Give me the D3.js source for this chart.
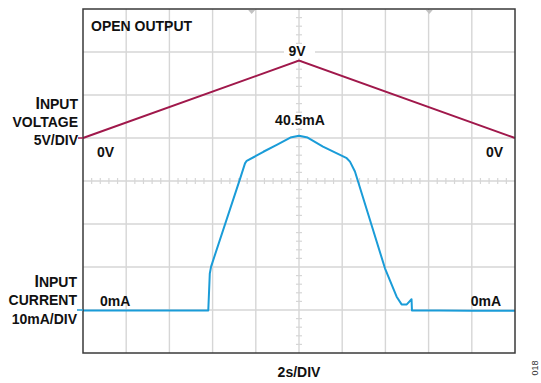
<!DOCTYPE html>
<html>
<head>
<meta charset="utf-8">
<script src="https://cdn.jsdelivr.net/npm/d3@7"></script>
<style>
  html, body { margin: 0; padding: 0; background: #fff; }
  svg { display: block; }
  text { font-family: "Liberation Sans", Arial, sans-serif; font-weight: bold; fill: #111; }
</style>
</head>
<body>
<svg id="chart" width="541" height="383"></svg>
<script>
// Time axis: 2 s per division, 10 divisions
const timeTicks = [0, 2, 4, 6, 8, 10, 12, 14, 16, 18, 20];

// Input voltage ramp (s, V)
const voltageTime = [0, 10, 20];
const voltageValue = [0, 9, 0];

// Input current (s, mA)
const currentTime = [0, 1.5, 3, 4.5, 5.8, 5.87, 5.93, 7.27, 7.5, 7.58, 7.96, 8.35, 8.97, 9.6, 10, 10.4, 11.11, 12.21, 12.36, 12.59, 13.98, 14.52, 14.75, 14.99, 15.21, 15.23, 16.5, 18, 20];
const currentValue = [-0.1, -0.1, -0.1, -0.1, -0.1, 8.5, 10.1, 30.5, 34.1, 34.7, 35.7, 36.8, 38.4, 40.1, 40.5, 40.1, 38.0, 35.3, 34.5, 32.2, 9.7, 3.1, 1.3, 1.3, 2.5, -0.1, -0.1, -0.2, -0.2];

// Cursor markers along the top edge (s)
const markerTime = [7.81, 16.03];

const svg = d3.select("#chart");
const plotL = 83, plotR = 515, plotT = 9, plotB = 353;

const x = d3.scaleLinear().domain([0, 20]).range([plotL, plotR]);
const div = d3.scaleLinear().domain([0, 8]).range([plotT, plotB]);
// 5 V/div with 0 V three divisions below the top
const yV = d3.scaleLinear().domain([-25, 15]).range([plotB, plotT]);
// 10 mA/div with 0 mA seven divisions below the top
const yI = d3.scaleLinear().domain([-10, 70]).range([plotB, plotT]);

const gridColor = "#d6d6d6";

// Grid
const grid = svg.append("g");
grid.selectAll("line.v").data(timeTicks.slice(1, -1)).join("line")
  .attr("class", "v")
  .attr("x1", d => x(d)).attr("x2", d => x(d))
  .attr("y1", plotT).attr("y2", plotB)
  .attr("stroke", gridColor).attr("stroke-width", 1.4);
grid.selectAll("line.h").data(d3.range(1, 8)).join("line")
  .attr("class", "h")
  .attr("x1", plotL).attr("x2", plotR)
  .attr("y1", d => div(d)).attr("y2", d => div(d))
  .attr("stroke", gridColor).attr("stroke-width", 1.4);

// Minor ticks on the centre lines
const minorX = d3.range(1, 50).filter(i => i % 5 !== 0).map(i => i * 0.4);
grid.selectAll("line.mx").data(minorX).join("line")
  .attr("class", "mx")
  .attr("x1", d => x(d)).attr("x2", d => x(d))
  .attr("y1", div(4) - 3).attr("y2", div(4) + 3)
  .attr("stroke", gridColor).attr("stroke-width", 1.2);
const minorY = d3.range(1, 40).filter(i => i % 5 !== 0).map(i => i / 5);
grid.selectAll("line.my").data(minorY).join("line")
  .attr("class", "my")
  .attr("x1", x(10) - 3).attr("x2", x(10) + 3)
  .attr("y1", d => div(d)).attr("y2", d => div(d))
  .attr("stroke", gridColor).attr("stroke-width", 1.2);

// Markers
svg.append("g").selectAll("path").data(markerTime).join("path")
  .attr("d", d => `M${x(d) - 3.5},${plotT + 1}L${x(d) + 3.5},${plotT + 1}L${x(d)},${plotT + 5}Z`)
  .attr("fill", "#c2c2c2");

function label(tx, ty, str, anchor) {
  return svg.append("text").attr("x", tx).attr("y", ty)
    .attr("text-anchor", anchor || "start").attr("font-size", 14).text(str);
}

// White backing behind the value callouts
svg.append("rect").attr("x", x(10) - 15).attr("y", div(1) - 8).attr("width", 31).attr("height", 14).attr("fill", "#fff");
svg.append("rect").attr("x", x(10) - 26).attr("y", 113).attr("width", 54).attr("height", 15).attr("fill", "#fff");

// Traces
const vLine = d3.line().x(d => x(d[0])).y(d => yV(d[1]));
svg.append("path").datum(d3.zip(voltageTime, voltageValue))
  .attr("d", vLine).attr("fill", "none")
  .attr("stroke", "#a0184b").attr("stroke-width", 2);

const iLine = d3.line().x(d => x(d[0])).y(d => yI(d[1]));
svg.append("path").datum(d3.zip(currentTime, currentValue))
  .attr("d", iLine).attr("fill", "none")
  .attr("stroke", "#1a9cd8").attr("stroke-width", 2).attr("stroke-linejoin", "round");

// Frame
svg.append("rect").attr("x", plotL).attr("y", plotT)
  .attr("width", plotR - plotL).attr("height", plotB - plotT)
  .attr("fill", "none").attr("stroke", "#3a3a3a").attr("stroke-width", 1.5);

// Level indicators at the left edge
svg.append("line").attr("x1", 78).attr("x2", plotL).attr("y1", yV(0)).attr("y2", yV(0))
  .attr("stroke", "#a0184b").attr("stroke-width", 1.5);
svg.append("line").attr("x1", 77).attr("x2", plotL).attr("y1", yI(0)).attr("y2", yI(0))
  .attr("stroke", "#1a9cd8").attr("stroke-width", 1.5);

// Text
label(91, 31, "OPEN OUTPUT");
label(x(10) - 2, 56, "9V", "middle");
label(x(10) + 1, 125, "40.5mA", "middle");
label(97, 157, "0V");
label(503, 157, "0V", "end");
label(100, 306, "0mA");
label(501, 306, "0mA", "end");
label(x(10), 377, "2s/DIV", "middle");

function axisLabel(xr, ys, lines) {
  lines.forEach((ln, i) => {
    const t = svg.append("text").attr("x", xr).attr("y", ys[i])
      .attr("text-anchor", "end").attr("font-size", 14);
    if (i === 0) {
      t.append("tspan").attr("font-size", 16).text(ln[0]);
      t.append("tspan").text(ln.slice(1));
    } else {
      t.text(ln);
    }
  });
}
axisLabel(78, [109, 127, 145], ["INPUT", "VOLTAGE", "5V/DIV"]);
axisLabel(77, [287, 305, 324], ["INPUT", "CURRENT", "10mA/DIV"]);

svg.append("text").attr("transform", "translate(538,368) rotate(-90)")
  .attr("text-anchor", "middle").attr("font-size", 9)
  .style("font-weight", "normal").style("fill", "#333")
  .text("018");
</script>
</body>
</html>
